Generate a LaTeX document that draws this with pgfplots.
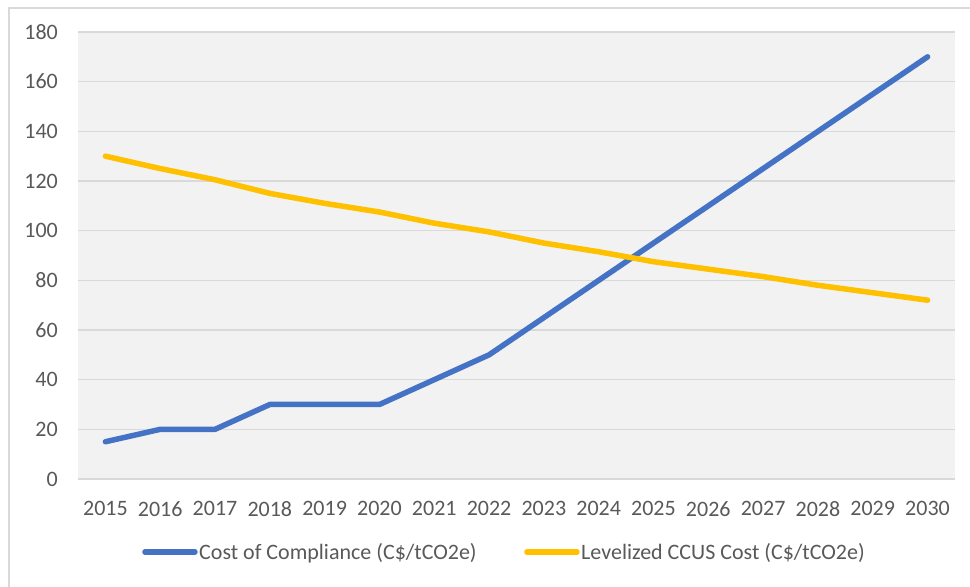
\documentclass[border=0pt]{standalone}
\usepackage{pgfplots}
\pgfplotsset{compat=1.18}
\usepackage{fontspec}
\setmainfont{Carlito}

\definecolor{plotbg}{HTML}{F2F2F2}
\definecolor{gridgray}{HTML}{D9D9D9}
\definecolor{ticktext}{HTML}{595959}
\definecolor{compliance}{HTML}{4472C4}
\definecolor{ccus}{HTML}{FFC000}

\begin{document}
\begin{tikzpicture}[x=1bp,y=1bp]
\useasboundingbox (0,0) rectangle (970,587);
\fill[white] (0,0) rectangle (970,587);
% outer chart frame
\draw[gridgray, line width=1.5bp] (9,-10) -- (9,579) -- (990,579);
\begin{axis}[
  at={(78bp,108bp)}, anchor=south west,
  width=877bp, height=447bp, scale only axis,
  xmin=2014.5, xmax=2030.5,
  ymin=0, ymax=180,
  ytick={0,20,...,180},
  xtick={2015,...,2030},
  xticklabels={2015,2016,2017,2018,2019,2020,2021,2022,2023,2024,2025,2026,2027,2028,2029,2030},
  axis background/.style={fill=plotbg},
  axis line style={draw=none},
  major tick length=0pt,
  ymajorgrids,
  grid style={gridgray, line width=1.5bp},
  font=\fontsize{22bp}{26bp}\selectfont,
  tick label style={text=ticktext},
  /pgf/number format/assume math mode=true,
  yticklabel style={anchor=east, inner sep=0pt, xshift=-20bp},
  xticklabel style={anchor=north, inner sep=0pt, yshift=-22bp},
  clip=false,
  legend columns=2,
  legend style={at={(0.486,-0.163)}, anchor=center, draw=none, fill=none,
    text=ticktext, font=\fontsize{22bp}{26bp}\selectfont,
    /tikz/every even column/.append style={column sep=46bp},
    nodes={inner sep=1.5bp}},
  legend image code/.code={\draw[#1, line cap=round] (0bp,0bp) -- (50bp,0bp);},
]
\addplot[compliance, line width=5.5bp, line cap=round, line join=round] coordinates {
  (2015,15) (2016,20) (2017,20) (2018,30) (2019,30) (2020,30) (2021,40) (2022,50)
  (2023,65) (2024,80) (2025,95) (2026,110) (2027,125) (2028,140) (2029,155) (2030,170)
};
\addlegendentry{Cost of Compliance (C\$/tCO2e)}
\addplot[ccus, line width=5.5bp, line cap=round, line join=round] coordinates {
  (2015,130) (2016,125) (2017,120.5) (2018,115) (2019,111) (2020,107.5) (2021,103) (2022,99.5)
  (2023,95) (2024,91.5) (2025,87.5) (2026,84.5) (2027,81.5) (2028,78) (2029,75) (2030,72)
};
\addlegendentry{Levelized CCUS Cost (C\$/tCO2e)}
\end{axis}
\end{tikzpicture}
\end{document}
